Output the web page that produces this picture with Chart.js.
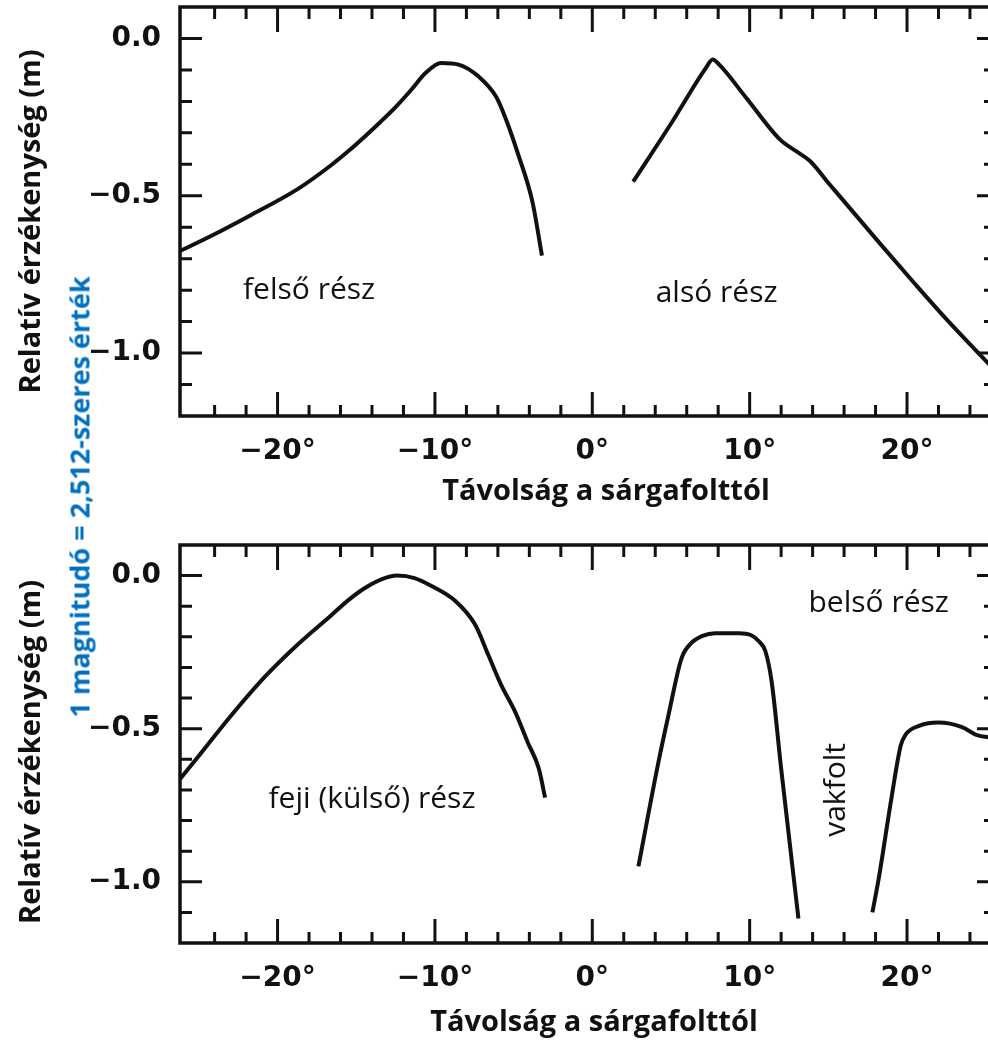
<!DOCTYPE html>
<html>
<head>
<meta charset="utf-8">
<script src="https://cdn.jsdelivr.net/npm/chart.js@4.4.1/dist/chart.umd.min.js"></script>
<style>
  body { margin: 0; background: #fff; overflow: hidden; }
  #wrap { position: relative; width: 988px; height: 1055px; overflow: hidden; }
  .box { position: absolute; left: 0; width: 1000px; }
  #note {
    position: absolute; left: 79px; top: 497px;
    transform: translate(-50%, -50%) rotate(-90deg);
    white-space: nowrap; font: 700 27px "Open Sans"; line-height: 1;
    color: #0070C0; z-index: 2;
  }
</style>
</head>
<body>
<div id="wrap">
  <div class="box" style="top:0;height:520px"><canvas id="topChart"></canvas></div>
  <div class="box" style="top:520px;height:535px"><canvas id="bottomChart"></canvas></div>
  <div id="note">1 magnitudó = 2,512-szeres érték</div>
</div>
<script>
const xTickValues = [-20, -10, 0, 10, 20];
const yTickValues = [-1.0, -0.5, 0.0];

// felső ábra
const felsoX = [-26.3, -24.2, -21.8, -18.7, -16.6, -15.5, -14.4, -13.5, -12.5, -11.5, -10.6, -9.6, -8.5, -7.2, -6.1, -5.5, -4.7, -3.8, -3.2];
const felsoY = [-0.678, -0.627, -0.564, -0.478, -0.403, -0.358, -0.309, -0.267, -0.218, -0.163, -0.11, -0.078, -0.083, -0.122, -0.186, -0.255, -0.37, -0.52, -0.69];
const alsoX = [2.6, 5.1, 7.2, 7.65, 8.1, 9.8, 11.9, 13.0, 13.8, 15.1, 18.3, 20.4, 22.5, 25.4];
const alsoY = [-0.455, -0.263, -0.095, -0.067, -0.085, -0.19, -0.32, -0.36, -0.388, -0.465, -0.653, -0.774, -0.892, -1.045];

// alsó ábra
const fejiX = [-26.4, -25.1, -23.0, -20.8, -18.7, -16.6, -15.5, -14.5, -13.4, -12.4, -11.3, -10.25, -8.7, -7.45, -6.6, -5.8, -4.9, -4.1, -3.4, -3.0];
const fejiY = [-0.677, -0.595, -0.46, -0.33, -0.224, -0.13, -0.08, -0.042, -0.012, 0.0, -0.008, -0.033, -0.083, -0.16, -0.26, -0.356, -0.445, -0.545, -0.63, -0.725];
const belsoX = [2.93, 4.2, 4.84, 5.67, 6.3, 7.0, 7.8, 9.3, 10.1, 10.6, 11.0, 11.4, 12.0, 13.1];
const belsoY = [-0.95, -0.61, -0.456, -0.27, -0.22, -0.197, -0.188, -0.188, -0.195, -0.215, -0.247, -0.347, -0.63, -1.12];
const belso2X = [17.8, 18.2, 19.0, 19.6, 19.9, 20.8, 22.0, 23.5, 24.4, 25.4];
const belso2Y = [-1.10, -0.99, -0.73, -0.555, -0.52, -0.49, -0.48, -0.495, -0.52, -0.53];

function pts(xs, ys) {
  return xs.map((x, i) => ({ x: x, y: ys[i] }));
}

function curve(xs, ys) {
  return {
    data: pts(xs, ys),
    borderColor: '#111',
    borderWidth: 4,
    pointRadius: 0,
    fill: false,
    cubicInterpolationMode: 'monotone'
  };
}

// keret + befelé álló osztásjelek
const frameTicks = {
  id: 'frameTicks',
  afterDatasetsDraw(chart) {
    const { ctx, chartArea: a, scales: { x, y } } = chart;
    ctx.save();
    ctx.strokeStyle = '#111';
    ctx.lineWidth = 3;
    ctx.beginPath();
    for (let v = -24; v <= 26; v += 2) {
      if (v > x.max) break;
      const px = x.getPixelForValue(v);
      const major = v % 10 === 0;
      ctx.moveTo(px, a.bottom); ctx.lineTo(px, a.bottom - (major ? 24 : 11));
      ctx.moveTo(px, a.top); ctx.lineTo(px, a.top + (major ? 25 : 12));
    }
    for (let k = -11; k <= 0; k++) {
      const py = y.getPixelForValue(k / 10);
      const major = k % 5 === 0;
      ctx.moveTo(a.left, py); ctx.lineTo(a.left + (major ? 22 : 12), py);
      ctx.moveTo(a.right, py); ctx.lineTo(a.right - (major ? 15 : 8), py);
    }
    ctx.stroke();
    ctx.lineWidth = 3.5;
    ctx.strokeRect(a.left, a.top, a.right - a.left, a.bottom - a.top);
    ctx.restore();
  }
};

// feliratok a görbék mellett (adatkoordinátákban)
const notes = {
  id: 'notes',
  afterDatasetsDraw(chart, args, opts) {
    const { ctx, scales: { x, y } } = chart;
    ctx.save();
    ctx.fillStyle = '#111';
    ctx.font = '30px "Open Sans"';
    ctx.textAlign = 'center';
    ctx.textBaseline = 'middle';
    (opts.items || []).forEach(n => {
      ctx.save();
      ctx.translate(x.getPixelForValue(n.x), y.getPixelForValue(n.y));
      if (n.rotate) ctx.rotate(-Math.PI / 2);
      ctx.fillText(n.text, 0, 0);
      ctx.restore();
    });
    ctx.restore();
  }
};

// tengelycímek
const axisTitles = {
  id: 'axisTitles',
  afterDraw(chart, args, o) {
    const { ctx, chartArea: a } = chart;
    ctx.save();
    ctx.fillStyle = '#111';
    ctx.font = 'bold 29px "Open Sans"';
    ctx.textAlign = 'center';
    ctx.textBaseline = 'middle';
    ctx.fillText(o.xText, (a.left + a.right) / 2 + o.xShift, o.xTop);
    ctx.translate(o.yLeft, (a.top + a.bottom) / 2 + o.yShift);
    ctx.rotate(-Math.PI / 2);
    ctx.fillText(o.yText, 0, 0);
    ctx.restore();
  }
};

const tickFont = { family: '"DejaVu Sans"', size: 28, weight: 'bold', lineHeight: 1.2 };

function makeChart(id, datasets, items, padTop, xHeight, t) {
  return new Chart(document.getElementById(id), {
    type: 'line',
    data: { datasets: datasets },
    options: {
      responsive: true,
      maintainAspectRatio: false,
      animation: false,
      layout: { padding: { top: padTop, right: 8, bottom: 0, left: 0 } },
      plugins: {
        legend: { display: false },
        tooltip: { enabled: false },
        notes: { items: items },
        axisTitles: Object.assign({
          xText: 'Távolság a sárgafolttól',
          yText: 'Relatív érzékenység (m)',
          yLeft: 32
        }, t)
      },
      scales: {
        x: {
          type: 'linear',
          min: -26.2,
          max: 25.4,
          grid: { display: false },
          border: { display: false },
          afterBuildTicks: s => { s.ticks = xTickValues.map(v => ({ value: v })); },
          afterFit: s => { s.height = xHeight; s.paddingLeft = 0; s.paddingRight = 0; },
          ticks: {
            color: '#111', font: tickFont, padding: 11, autoSkip: false, maxRotation: 0,
            callback: v => String(v).replace('-', '\u2212') + '°'
          }
        },
        y: {
          min: -1.2,
          max: 0.1,
          grid: { display: false },
          border: { display: false },
          afterBuildTicks: s => { s.ticks = yTickValues.map(v => ({ value: v })); },
          afterFit: s => { s.width = 180; s.paddingTop = 0; s.paddingBottom = 0; },
          ticks: {
            color: '#111', font: tickFont, padding: 11,
            callback: v => Number(v).toFixed(1).replace('-', '\u2212')
          }
        }
      }
    },
    plugins: [frameTicks, notes, axisTitles]
  });
}

makeChart('topChart',
  [curve(felsoX, felsoY), curve(alsoX, alsoY)],
  [
    { text: 'felső rész', x: -18.0, y: -0.80 },
    { text: 'alsó rész', x: 7.9, y: -0.81 }
  ],
  7, 104, { xShift: 20, xTop: 492, yShift: 10 });

makeChart('bottomChart',
  [curve(fejiX, fejiY), curve(belsoX, belsoY), curve(belso2X, belso2Y)],
  [
    { text: 'feji (külső) rész', x: -14.0, y: -0.73 },
    { text: 'belső rész', x: 18.2, y: -0.09 },
    { text: 'vakfolt', x: 15.5, y: -0.70, rotate: true }
  ],
  25, 112, { xShift: 8, xTop: 503, yShift: 8 });
</script>
</body>
</html>
